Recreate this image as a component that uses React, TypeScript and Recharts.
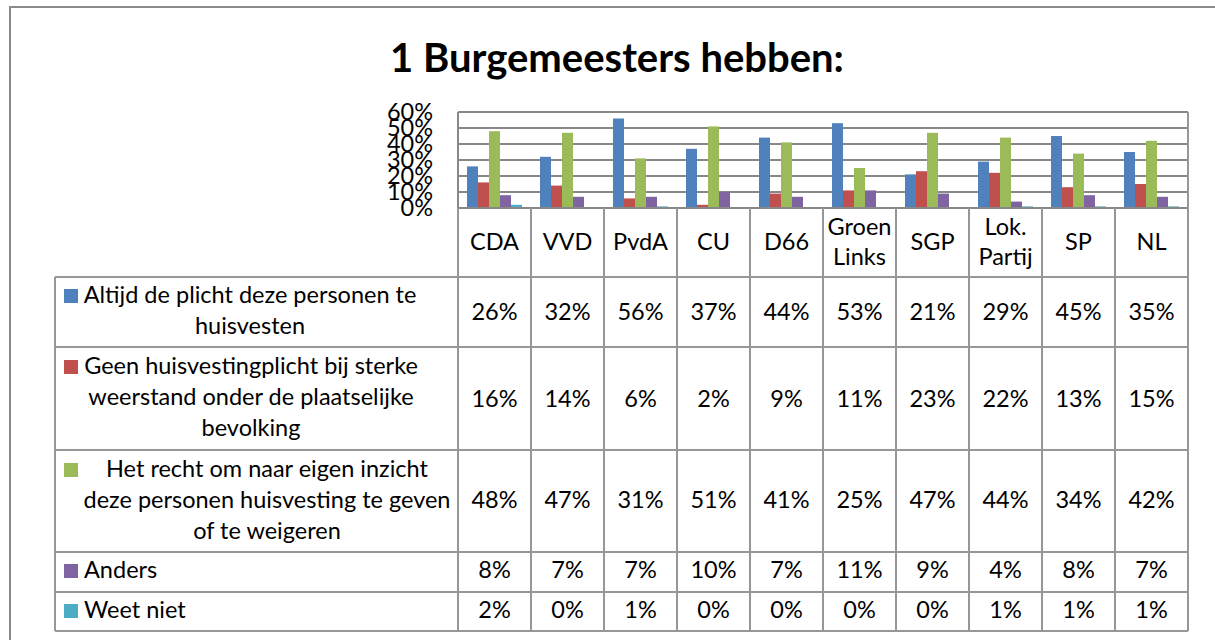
import React from "react";
import { BarChart, Bar, XAxis, YAxis, CartesianGrid } from "recharts";

const TITLE = "1 Burgemeesters hebben:";
const CATEGORIES = ["CDA", "VVD", "PvdA", "CU", "D66", "Groen Links", "SGP", "Lok. Partij", "SP", "NL"];
const ALTIJD = [26, 32, 56, 37, 44, 53, 21, 29, 45, 35];
const GEEN = [16, 14, 6, 2, 9, 11, 23, 22, 13, 15];
const RECHT = [48, 47, 31, 51, 41, 25, 47, 44, 34, 42];
const ANDERS = [8, 7, 7, 10, 7, 11, 9, 4, 8, 7];
const WEETNIET = [2, 0, 1, 0, 0, 0, 0, 1, 1, 1];
const Y_TICKS = [0, 10, 20, 30, 40, 50, 60];

const SERIES = [
  { key: "altijd", values: ALTIJD, color: "#4F81BD", lines: ["Altijd de plicht deze personen te", "huisvesten"] },
  { key: "geen", values: GEEN, color: "#C0504D", lines: ["Geen huisvestingplicht bij sterke", "weerstand onder de plaatselijke", "bevolking"] },
  { key: "recht", values: RECHT, color: "#9BBB59", lines: ["Het recht om naar eigen inzicht", "deze personen huisvesting te geven", "of te weigeren"] },
  { key: "anders", values: ANDERS, color: "#8064A2", lines: ["Anders"] },
  { key: "weet", values: WEETNIET, color: "#4BACC6", lines: ["Weet niet"] },
];

const data = CATEGORIES.map((name, i) => {
  const row: any = { name };
  SERIES.forEach((s) => (row[s.key] = s.values[i] / 100));
  return row;
});

// layout constants
const W = 1215;
const H = 640;
const PLOT_L = 458;
const PLOT_R = 1188;
const PLOT_T = 112;
const PLOT_B = 208;
const BAND = (PLOT_R - PLOT_L) / CATEGORIES.length;
const ROW_Y = [208, 277, 347, 450, 552, 592, 631];
const TABLE_L = 55;
const FONT = "Lato, 'Open Sans', sans-serif";
const FS = 23.5;
const LINE_COLOR = "#979797";
const GRID_COLOR = "#888888";

// per-row text layout (baselines / centers)
const ROW_LINES_BASE = [[303, 334], [374, 405, 436], [477, 508, 539], [578], [618]];
const ROW_LINES_CX = [250, 251, 267, 0, 0];
const VALUE_BASE = [320, 407, 508, 578, 618];

const TableTick = (props: any) => {
  const { x, y, payload } = props;
  const i = payload.index;
  const left = x - BAND / 2;
  const words = String(payload.value).split(" ");
  const headerBases = words.length === 1 ? [250] : [235, 265];
  return (
    <g>
      <line x1={left} y1={y} x2={left} y2={ROW_Y[6]} stroke={LINE_COLOR} strokeWidth={2} />
      {i === CATEGORIES.length - 1 && (
        <line x1={left + BAND} y1={PLOT_T} x2={left + BAND} y2={ROW_Y[6]} stroke={LINE_COLOR} strokeWidth={2} />
      )}
      {words.map((w, k) => (
        <text key={k} x={x} y={headerBases[k]} textAnchor="middle" fontFamily={FONT} fontSize={FS} fill="#000">
          {w}
        </text>
      ))}
      {SERIES.map((s, r) => (
        <text key={s.key} x={x} y={VALUE_BASE[r]} textAnchor="middle" fontFamily={FONT} fontSize={FS} fill="#000">
          {s.values[i]}%
        </text>
      ))}
    </g>
  );
};

const LegendColumn = () => (
  <g>
    <line x1={TABLE_L} y1={ROW_Y[1]} x2={TABLE_L} y2={ROW_Y[6]} stroke={LINE_COLOR} strokeWidth={2} />
    {ROW_Y.slice(1).map((yy, k) => (
      <line key={k} x1={TABLE_L} y1={yy} x2={PLOT_R} y2={yy} stroke={LINE_COLOR} strokeWidth={2} />
    ))}
    {SERIES.map((s, r) => {
      const bases = ROW_LINES_BASE[r];
      const single = s.lines.length === 1;
      return (
        <g key={s.key}>
          <rect x={64} y={bases[0] - 14} width={14} height={14} fill={s.color} />
          {s.lines.map((ln, k) => (
            <text
              key={k}
              x={single ? 84 : ROW_LINES_CX[r]}
              y={bases[k]}
              textAnchor={single ? "start" : "middle"}
              fontFamily={FONT}
              fontSize={FS}
              fill="#000"
            >
              {ln}
            </text>
          ))}
        </g>
      );
    })}
  </g>
);

const Frame = () => (
  <g>
    <line x1={10} y1={7} x2={W + 10} y2={7} stroke="#8a8a8a" strokeWidth={2} />
    <line x1={10} y1={6} x2={10} y2={H + 10} stroke="#8a8a8a" strokeWidth={2} />
    <text x={617} y={72} textAnchor="middle" fontFamily={FONT} fontWeight="bold" fontSize={40} fill="#000">
      {TITLE}
    </text>
  </g>
);

export default function App() {
  return (
    <div style={{ position: "fixed", left: 0, top: 0, width: W, height: H, background: "#fff", overflow: "hidden" }}>
      <BarChart
        width={W}
        height={H}
        data={data}
        margin={{ top: PLOT_T, right: W - PLOT_R, bottom: 0, left: PLOT_L - 60 }}
        barCategoryGap={9}
        barGap={0}
      >
        <Frame />
        <LegendColumn />
        <CartesianGrid horizontal={true} vertical={false} stroke={GRID_COLOR} strokeWidth={2} strokeDasharray="" />
        <XAxis
          dataKey="name"
          interval={0}
          height={H - PLOT_B}
          tickLine={false}
          tickSize={0}
          tickMargin={0}
          axisLine={{ stroke: GRID_COLOR, strokeWidth: 2 }}
          tick={<TableTick />}
        />
        <YAxis
          width={60}
          domain={[0, 0.6]}
          ticks={Y_TICKS.map((t) => t / 100)}
          interval={0}
          tickFormatter={(v: number) => `${Math.round(v * 100)}%`}
          tickLine={false}
          tickSize={0}
          tickMargin={25}
          axisLine={{ stroke: GRID_COLOR, strokeWidth: 2 }}
          tick={{ fontFamily: FONT, fontSize: FS, fill: "#000" }}
        />
        {SERIES.map((s) => (
          <Bar key={s.key} dataKey={s.key} fill={s.color} isAnimationActive={false} />
        ))}
        <rect x={1196} y={0} width={30} height={H} fill="#fff" />
        <line x1={1196} y1={7} x2={W + 10} y2={7} stroke="#8a8a8a" strokeWidth={2} />
      </BarChart>
    </div>
  );
}
